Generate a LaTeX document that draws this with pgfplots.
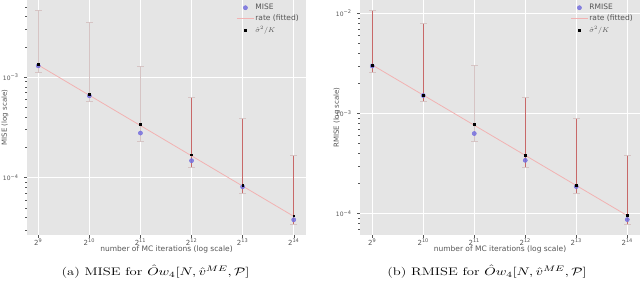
\documentclass[border=0pt]{standalone}
\usepackage{fontspec}
\usepackage{graphicx}
\usepackage{pgfplots}
\pgfplotsset{compat=1.18}
\usepackage{pgfplotstable}
\newfontfamily\dejavu{DejaVu Sans}
\definecolor{bg}{RGB}{229,229,229}
\definecolor{tickgray}{RGB}{85,85,85}
\definecolor{pale}{RGB}{214,196,196}
\definecolor{barred}{RGB}{200,104,104}
\definecolor{ratepink}{RGB}{242,178,178}
\definecolor{mblue}{RGB}{118,112,222}

% left panel data
\pgfplotstableread{
N y
512 1.11e-3
512 4.6e-3
nan nan
1024 5.77e-4
1024 3.47e-3
nan nan
2048 2.3e-4
2048 1.29e-3
nan nan
4096 1.25e-4
4096 6.33e-4
nan nan
8192 6.9e-5
8192 3.88e-4
nan nan
16384 3.4e-5
16384 1.66e-4
}\leftbars
\pgfplotstableread{
N y
4096 1.25e-4
4096 6.33e-4
nan nan
8192 6.9e-5
8192 3.88e-4
nan nan
16384 3.4e-5
16384 1.66e-4
}\leftred
\pgfplotstableread{
N mise sig
512 1.29e-3 1.33e-3
1024 6.5e-4 6.8e-4
2048 2.77e-4 3.4e-4
4096 1.47e-4 1.69e-4
8192 8.1e-5 8.4e-5
16384 3.8e-5 4.17e-5
}\leftpts
\pgfplotstableread{
N r
512 1.315e-3
16384 4.11e-5
}\leftrate

% right panel data
\pgfplotstableread{
N y
512 2.55e-3
512 1.07e-2
nan nan
1024 1.33e-3
1024 7.95e-3
nan nan
2048 5.3e-4
2048 3.0e-3
nan nan
4096 2.88e-4
4096 1.45e-3
nan nan
8192 1.58e-4
8192 8.87e-4
nan nan
16384 7.8e-5
16384 3.8e-4
}\rightbars
\pgfplotstableread{
N y
512 2.55e-3
512 1.07e-2
nan nan
1024 1.33e-3
1024 7.95e-3
nan nan
4096 2.88e-4
4096 1.45e-3
nan nan
8192 1.58e-4
8192 8.87e-4
nan nan
16384 7.8e-5
16384 3.8e-4
}\rightred
\pgfplotstableread{
N mise sig
512 2.98e-3 3.05e-3
1024 1.51e-3 1.53e-3
2048 6.3e-4 7.8e-4
4096 3.4e-4 3.85e-4
8192 1.86e-4 1.93e-4
16384 8.7e-5 9.6e-5
}\rightpts
\pgfplotstableread{
N r
512 3.05e-3
16384 9.53e-5
}\rightrate

\pgfplotsset{
  every axis/.append style={
    scale only axis, height=235pt,
    axis background/.style={fill=bg},
    axis line style={draw=none},
    grid=major, major grid style={white, line width=0.8pt},
    tick align=outside, tick pos=left,
    major tick length=3pt, minor tick length=1.8pt,
    tick style={tickgray, line width=0.4pt},
    xtick={512,1024,2048,4096,8192,16384},
    xticklabels={2\textsuperscript{9},2\textsuperscript{10},2\textsuperscript{11},2\textsuperscript{12},2\textsuperscript{13},2\textsuperscript{14}},
    xticklabel style={font=\dejavu\fontsize{7}{8}\selectfont, text=tickgray, yshift=2.5pt},
    yticklabel style={font=\dejavu\fontsize{6}{7}\selectfont, text=tickgray, xshift=-2pt},
    legend style={draw=none, fill=none, at={(1,1)}, anchor=north east, xshift=-5pt, yshift=-2pt,
      font=\dejavu\fontsize{7.5}{8}\selectfont, text=tickgray, row sep=2pt, inner sep=1pt,
      nodes={inner sep=1pt}},
    legend cell align=left,
    unbounded coords=jump,
  },
  every axis x label/.style={at={(axis description cs:0.5,0)}, anchor=center, yshift=-14.5pt,
    font=\dejavu\fontsize{7.5}{8}\selectfont, text=tickgray},
}

\begin{document}
\begin{tikzpicture}
\path[use as bounding box] (0pt,0pt) rectangle (640pt,-282pt);

\begin{axis}[xmode=log, log basis x=2, ymode=log,
  at={(27pt,0pt)}, anchor=north west, width=279pt,
  xmin=439.6, xmax=19352, ymin=2.68e-5, ymax=5.83e-3,
  ytick={1e-4,1e-3},
  yticklabels={10\textsuperscript{−4},10\textsuperscript{−3}},
  minor ytick={3e-5,4e-5,5e-5,6e-5,7e-5,8e-5,9e-5,2e-4,3e-4,4e-4,5e-4,6e-4,7e-4,8e-4,9e-4,2e-3,3e-3,4e-3,5e-3},
  xlabel={number of MC iterations (log scale)},
  ylabel={MISE (log scale)},
  every axis y label/.style={at={(axis description cs:-0.079,0.5)}, rotate=90, anchor=center,
    font=\dejavu\fontsize{7}{8}\selectfont, text=tickgray},
]
\addplot[pale, line width=0.9pt, mark=-, mark size=3.5pt, mark options={pale, line width=0.6pt}, forget plot] table[x=N, y=y] {\leftbars};
\addplot[barred, line width=1pt, forget plot] table[x=N, y=y] {\leftred};
\addplot[only marks, mark=*, mark size=2.1pt, mark options={draw=mblue, fill=mblue, fill opacity=0.85}] table[x=N, y=mise] {\leftpts};
\addlegendentry{MISE}
\addplot[ratepink, line width=0.8pt] table[x=N, y=r] {\leftrate};
\addlegendentry{rate (fitted)}
\addplot[only marks, mark=square*, mark size=0.9pt, mark options={draw=black, fill=black}] table[x=N, y=sig] {\leftpts};
\addlegendentry{$\hat\sigma^2/K$}
\end{axis}

\begin{axis}[xmode=log, log basis x=2, ymode=log,
  at={(360pt,0pt)}, anchor=north west, width=280pt,
  xmin=433.5, xmax=19484, ymin=6.1e-5, ymax=1.36e-2,
  ytick={1e-4,1e-3,1e-2},
  yticklabels={10\textsuperscript{−4},10\textsuperscript{−3},10\textsuperscript{−2}},
  minor ytick={7e-5,8e-5,9e-5,2e-4,3e-4,4e-4,5e-4,6e-4,7e-4,8e-4,9e-4,2e-3,3e-3,4e-3,5e-3,6e-3,7e-3,8e-3,9e-3},
  xlabel={number of MC iterations (log scale)},
  ylabel={RMISE (log scale)},
  every axis y label/.style={at={(axis description cs:-0.082,0.5)}, rotate=90, anchor=center,
    font=\dejavu\fontsize{7}{8}\selectfont, text=tickgray},
]
\addplot[pale, line width=0.9pt, mark=-, mark size=3.5pt, mark options={pale, line width=0.6pt}, forget plot] table[x=N, y=y] {\rightbars};
\addplot[barred, line width=1pt, forget plot] table[x=N, y=y] {\rightred};
\addplot[only marks, mark=*, mark size=2.1pt, mark options={draw=mblue, fill=mblue, fill opacity=0.85}] table[x=N, y=mise] {\rightpts};
\addlegendentry{RMISE}
\addplot[ratepink, line width=0.8pt] table[x=N, y=r] {\rightrate};
\addlegendentry{rate (fitted)}
\addplot[only marks, mark=square*, mark size=0.9pt, mark options={draw=black, fill=black}] table[x=N, y=sig] {\rightpts};
\addlegendentry{$\hat\sigma^2/K$}
\end{axis}

\node[anchor=base, inner sep=0pt] at (155.5pt,-275.7pt) {\scalebox{1.33}[1]{\fontsize{11}{13}\selectfont (a) MISE for $\hat{O}w_4[N,\hat{v}^{ME},\mathcal{P}]$}};
\node[anchor=base, inner sep=0pt] at (487pt,-275.7pt) {\scalebox{1.33}[1]{\fontsize{11}{13}\selectfont (b) RMISE for $\hat{O}w_4[N,\hat{v}^{ME},\mathcal{P}]$}};
\end{tikzpicture}
\end{document}
